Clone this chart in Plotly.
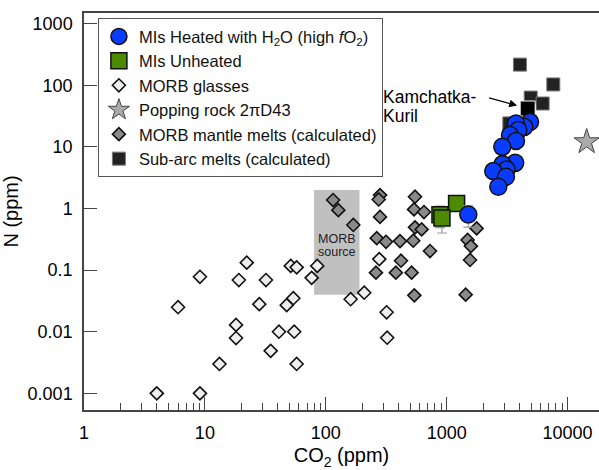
import math
import plotly.graph_objects as go

# ---------------- data ----------------
heated_co2 = [4887, 4385, 3742, 3911, 3342, 3742, 2885, 3690, 2900, 3133, 2428, 3094, 2673, 1510]
heated_n = [25.4, 21.1, 23.9, 18.7, 15.5, 12.5, 10.0, 5.5, 5.24, 4.3, 4.04, 3.27, 2.25, 0.80]
heated_err = [0, 0, 0, 0, 0, 0, 0, 0, 0, 0, 0, 0, 0, 0.3]

unheated_co2 = [1208, 880, 914]
unheated_n = [1.21, 0.79, 0.70]
unheated_err = [0.3, 0.3, 0.3]

glass_co2 = [4.0, 9.1, 9.1, 6.0, 13.2, 18.1, 18.1, 19.1, 22.2, 28.2, 32, 35, 41, 47.5,
             51.3, 53.9, 54.8, 57.4, 57.4, 76.4, 85, 160.6, 208, 277, 318.6, 322]
glass_n = [0.001, 0.001, 0.078, 0.025, 0.003, 0.0129, 0.0079, 0.069, 0.132, 0.028, 0.069,
           0.0049, 0.01, 0.027, 0.117, 0.035, 0.01, 0.111, 0.003, 0.075, 0.117, 0.0337,
           0.043, 0.151, 0.0207, 0.008]

popping_co2 = [14390]
popping_n = [12.05]

mantle_co2 = [115, 127, 169, 281, 274, 281, 264, 315, 411, 529, 547, 537, 649, 547, 621,
              728, 419, 260, 380, 513, 540, 1436, 1490, 1585, 1560, 1770]
mantle_n = [1.37, 0.94, 0.54, 1.65, 1.40, 0.73, 0.33, 0.288, 0.296, 0.30, 1.55, 0.966,
            0.875, 0.494, 0.458, 0.204, 0.142, 0.091, 0.091, 0.091, 0.039, 0.04, 0.308,
            0.245, 0.146, 0.475]

subarc_co2 = [4036, 7620, 4954, 6220, 3300]
subarc_n = [216, 103, 63, 50.5, 24]

kamchatka_co2 = [4677]
kamchatka_n = [41.9]

morb_source_co2 = [80, 190]
morb_source_n = [0.04, 2.0]

x_tickvals = [1, 10, 100, 1000, 10000]
x_ticktext = ["1", "10", "100", "1000", "10000"]
y_tickvals = [0.001, 0.01, 0.1, 1, 10, 100, 1000]
y_ticktext = ["0.001", "0.01", "0.1", "1", "10", "100", "1000"]

FONT = "Liberation Sans, Arial, Helvetica, sans-serif"

fig = go.Figure()

# MORB glasses
fig.add_trace(go.Scatter(
    x=glass_co2, y=glass_n, mode="markers", name="MORB glasses", legendrank=3,
    marker=dict(symbol="diamond", size=10, color="#eeeeee",
                line=dict(color="#111111", width=1.6))))

# MORB mantle melts
fig.add_trace(go.Scatter(
    x=mantle_co2, y=mantle_n, mode="markers", name="MORB mantle melts (calculated)", legendrank=5,
    marker=dict(symbol="diamond", size=10, color="#8a8a8a",
                line=dict(color="#111111", width=1.6))))

# MIs unheated
fig.add_trace(go.Scatter(
    x=unheated_co2, y=unheated_n, mode="markers", name="MIs Unheated", legendrank=2,
    error_y=dict(type="data", array=unheated_err, color="#999999", thickness=1.2, width=5),
    marker=dict(symbol="square", size=16, color="#4c8a00",
                line=dict(color="#111111", width=1.5))))

# Sub-arc melts
fig.add_trace(go.Scatter(
    x=subarc_co2, y=subarc_n, mode="markers", name="Sub-arc melts (calculated)", legendrank=6,
    marker=dict(symbol="square", size=13, color="#222222",
                line=dict(color="#777777", width=1))))
fig.add_trace(go.Scatter(
    x=kamchatka_co2, y=kamchatka_n, mode="markers", showlegend=False,
    marker=dict(symbol="square", size=15, color="#000000",
                line=dict(color="#ffffff", width=1))))

# MIs heated
fig.add_trace(go.Scatter(
    x=heated_co2, y=heated_n, mode="markers", legendrank=1,
    name="MIs Heated with H<sub>2</sub>O (high <i>f</i>O<sub>2</sub>)",
    error_y=dict(type="data", array=heated_err, color="#999999", thickness=1.2, width=5),
    marker=dict(symbol="circle", size=17, color="#0a3cff",
                line=dict(color="#111111", width=1.5))))

# Popping rock
fig.add_trace(go.Scatter(
    x=popping_co2, y=popping_n, mode="markers", name="Popping rock 2πD43", legendrank=4,
    marker=dict(symbol="star", size=19, color="#aaaaaa",
                line=dict(color="#444444", width=1))))

# MORB source box
fig.add_shape(type="rect", xref="x", yref="y",
              x0=morb_source_co2[0], x1=morb_source_co2[1],
              y0=morb_source_n[0], y1=morb_source_n[1],
              fillcolor="#c0c0c0", line=dict(width=0), layer="below")

box_mid_x = math.log10(math.sqrt(morb_source_co2[0] * morb_source_co2[1]))
fig.add_annotation(x=box_mid_x, y=-0.50, xref="x", yref="y", text="MORB", showarrow=False,
                   font=dict(family=FONT, size=12.5, color="#222222"))
fig.add_annotation(x=box_mid_x, y=-0.705, xref="x", yref="y", text="source", showarrow=False,
                   font=dict(family=FONT, size=12.5, color="#222222"))

# Kamchatka-Kuril label and arrow
fig.add_annotation(x=2.457, y=1.815, xref="x", yref="y", text="Kamchatka-", showarrow=False,
                   xanchor="left", font=dict(family=FONT, size=17.5, color="#000000"))
fig.add_annotation(x=2.457, y=1.505, xref="x", yref="y", text="Kuril", showarrow=False,
                   xanchor="left", font=dict(family=FONT, size=17.5, color="#000000"))
fig.add_annotation(
    x=math.log10(kamchatka_co2[0]), y=math.log10(kamchatka_n[0]), xref="x", yref="y",
    text="", showarrow=True, ax=-40, ay=-11, standoff=11,
    arrowhead=2, arrowsize=1.2, arrowwidth=1.3, arrowcolor="#000000")

fig.update_layout(
    width=599, height=470,
    margin=dict(l=84, r=0, t=13, b=60, autoexpand=False),
    paper_bgcolor="white", plot_bgcolor="white",
    font=dict(family=FONT, size=18, color="#000000"),
    showlegend=True,
    legend=dict(x=0.027, y=0.987, xanchor="left", yanchor="top",
                bgcolor="white", bordercolor="#555555", borderwidth=1,
                font=dict(family=FONT, size=16.5, color="#111111"),
                itemsizing="trace", tracegroupgap=0),
)

fig.update_xaxes(
    type="log", range=[0, 4.26], automargin=False,
    tickvals=x_tickvals, ticktext=x_ticktext,
    ticks="inside", ticklen=13, tickwidth=1, tickcolor="#444444",
    showline=True, linecolor="#444444", linewidth=1.5, mirror=True,
    showgrid=False, zeroline=False,
    tickfont=dict(size=18), ticklabelstandoff=6,
    minor=dict(ticks="inside", ticklen=7, tickcolor="#444444", dtick="D1", showgrid=False),
    title=dict(text="CO<sub>2</sub> (ppm)", font=dict(size=20), standoff=6),
)
fig.update_yaxes(
    type="log", range=[-3.27, 3.172], automargin=False,
    tickvals=y_tickvals, ticktext=y_ticktext,
    ticks="inside", ticklen=13, tickwidth=1, tickcolor="#444444",
    showline=True, linecolor="#444444", linewidth=1.5,
    showgrid=False, zeroline=False,
    tickfont=dict(size=18), ticklabelstandoff=6,
    title=dict(text="N (ppm)", font=dict(size=20), standoff=6),
)

fig.write_html("out.html", config={"displayModeBar": False},
               post_script="document.body.style.margin='0';")
